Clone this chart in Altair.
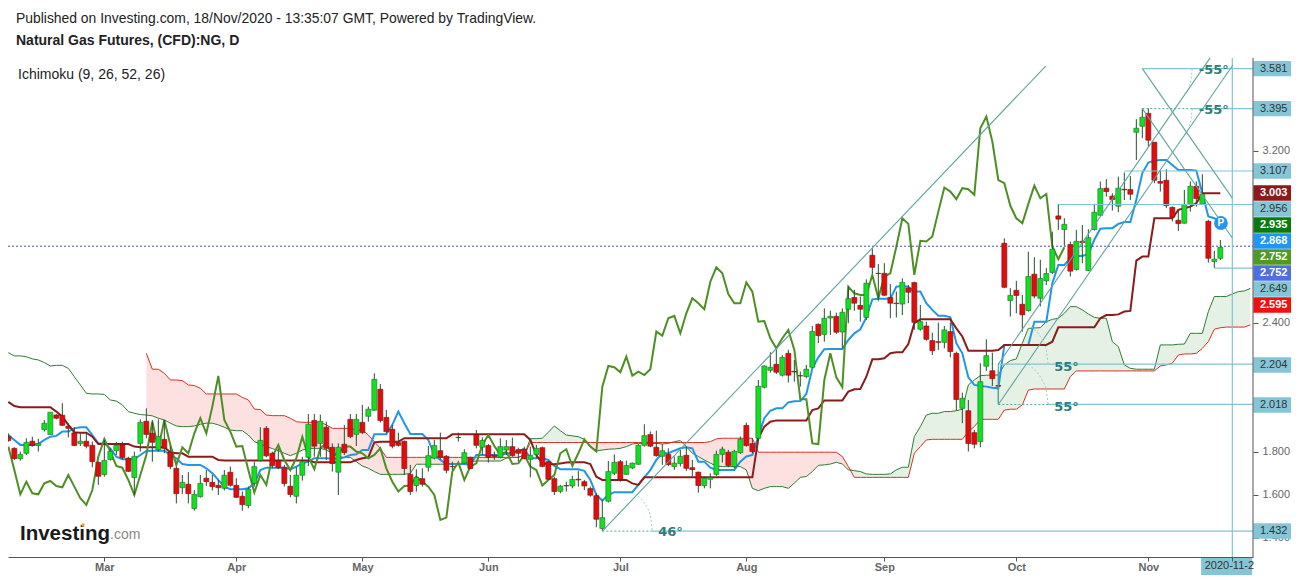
import json
import altair as alt
import pandas as pd

opens = [1.872,1.817,1.769,1.794,1.850,1.830,1.904,1.881,1.972,1.971,
1.920,1.889,1.839,1.850,1.831,1.752,1.695,1.765,1.806,1.834,
1.771,1.681,1.840,1.943,1.887,1.811,1.859,1.799,1.724,1.634,
1.650,1.537,1.592,1.678,1.659,1.645,1.631,1.706,1.645,1.594,
1.551,1.654,1.761,1.910,1.794,1.758,1.729,1.641,1.594,1.692,
1.775,1.947,1.840,1.915,1.822,1.706,1.836,1.952,1.882,1.938,
1.966,1.994,2.092,1.961,1.906,1.844,1.850,1.696,1.644,1.676,
1.729,1.771,1.806,1.780,1.733,1.868,1.748,1.775,1.881,1.822,
1.830,1.786,1.775,1.809,1.825,1.811,1.813,1.766,1.788,1.820,
1.755,1.676,1.617,1.644,1.642,1.673,1.662,1.630,1.597,1.444,
1.571,1.701,1.755,1.696,1.726,1.743,1.831,1.881,1.822,1.780,
1.789,1.732,1.746,1.785,1.727,1.706,1.644,1.673,1.696,1.789,
1.799,1.732,1.797,1.924,1.839,1.864,2.101,2.180,2.208,2.157,
2.259,2.175,2.155,2.151,2.194,2.394,2.347,2.423,2.431,2.358,
2.464,2.519,2.482,2.426,2.715,2.631,2.631,2.519,2.492,2.488,
2.563,2.588,2.371,2.386,2.318,2.313,2.310,2.360,2.259,2.003,
1.992,1.890,1.848,2.199,2.178,2.109,2.771,2.504,2.552,2.487,
2.458,2.627,2.515,2.596,2.635,2.898,2.835,2.765,2.649,2.780,
2.644,2.835,2.901,3.027,2.990,2.943,3.022,3.021,3.287,3.315,
3.375,3.241,3.058,3.064,2.938,2.878,2.864,2.951,3.036,2.952,
2.873,2.686,2.701]
closes = [1.853,1.769,1.789,1.845,1.830,1.839,1.934,1.985,1.957,1.924,
1.910,1.830,1.850,1.827,1.755,1.687,1.761,1.803,1.831,1.774,
1.710,1.780,1.938,1.882,1.845,1.871,1.817,1.732,1.606,1.659,
1.606,1.603,1.654,1.662,1.639,1.634,1.692,1.645,1.589,1.555,
1.627,1.732,1.854,1.782,1.737,1.727,1.653,1.602,1.692,1.755,
1.929,1.827,1.943,1.817,1.746,1.822,1.797,1.871,1.952,1.890,
1.999,2.138,1.946,1.895,1.827,1.831,1.723,1.616,1.682,1.650,
1.783,1.830,1.775,1.715,1.732,1.867,1.797,1.723,1.831,1.854,
1.775,1.778,1.825,1.825,1.783,1.794,1.769,1.785,1.817,1.733,
1.673,1.616,1.641,1.642,1.672,1.670,1.642,1.599,1.487,1.495,
1.709,1.752,1.673,1.737,1.748,1.831,1.876,1.827,1.783,1.806,
1.741,1.748,1.780,1.724,1.718,1.644,1.678,1.681,1.789,1.813,
1.737,1.803,1.859,1.830,1.802,2.106,2.200,2.194,2.171,2.240,
2.157,2.172,2.154,2.185,2.361,2.341,2.422,2.431,2.357,2.450,
2.513,2.492,2.464,2.585,2.659,2.630,2.529,2.492,2.490,2.589,
2.543,2.403,2.406,2.324,2.271,2.310,2.368,2.267,2.044,2.050,
1.839,1.836,2.127,2.248,2.141,2.106,2.566,2.528,2.528,2.438,
2.616,2.525,2.607,2.630,2.743,2.883,2.859,2.641,2.780,2.774,
2.797,2.915,3.025,3.011,2.974,3.027,3.019,2.999,3.306,3.357,
3.250,3.064,3.050,2.946,2.892,2.862,2.952,3.036,2.979,2.999,
2.701,2.697,2.752]
highs = [1.887,1.822,1.802,1.864,1.871,1.861,1.949,1.985,1.977,2.027,
1.934,1.915,1.887,1.887,1.848,1.755,1.856,1.817,1.847,1.848,
1.778,1.802,1.952,2.003,1.949,1.952,1.949,1.825,1.732,1.693,
1.706,1.623,1.693,1.716,1.693,1.670,1.716,1.732,1.678,1.616,
1.639,1.755,1.915,1.921,1.802,1.817,1.740,1.693,1.729,1.778,
1.977,1.977,1.974,1.941,1.840,1.840,1.926,1.977,1.977,2.019,
2.011,2.166,2.116,1.996,1.926,1.890,1.853,1.740,1.720,1.724,
1.828,1.856,1.890,1.786,1.755,1.890,1.813,1.778,1.902,1.868,
1.837,1.802,1.864,1.856,1.867,1.820,1.825,1.825,1.833,1.825,
1.760,1.685,1.647,1.662,1.689,1.713,1.670,1.639,1.608,1.577,
1.758,1.789,1.763,1.760,1.751,1.837,1.929,1.895,1.899,1.837,
1.817,1.779,1.810,1.825,1.763,1.709,1.686,1.701,1.806,1.825,
1.810,1.810,1.872,1.937,1.864,2.135,2.203,2.264,2.275,2.251,
2.275,2.228,2.174,2.205,2.386,2.398,2.468,2.457,2.448,2.468,
2.569,2.554,2.523,2.603,2.747,2.674,2.678,2.581,2.546,2.608,
2.577,2.592,2.484,2.406,2.355,2.402,2.386,2.402,2.267,2.076,
2.042,1.903,2.213,2.324,2.262,2.182,2.794,2.562,2.596,2.531,
2.732,2.706,2.694,2.655,2.825,2.954,2.887,2.779,2.833,2.856,
2.836,2.954,3.058,3.069,3.003,3.081,3.100,3.084,3.348,3.399,
3.399,3.241,3.109,3.115,2.942,2.926,3.019,3.058,3.058,3.092,
2.880,2.735,2.786]
lows = [1.848,1.763,1.760,1.786,1.825,1.802,1.895,1.879,1.952,1.921,
1.868,1.828,1.828,1.817,1.729,1.647,1.685,1.760,1.786,1.766,
1.707,1.600,1.802,1.864,1.755,1.802,1.794,1.720,1.561,1.605,
1.561,1.527,1.588,1.642,1.621,1.600,1.621,1.639,1.585,1.527,
1.538,1.639,1.755,1.775,1.724,1.720,1.639,1.589,1.561,1.667,
1.735,1.778,1.778,1.763,1.709,1.600,1.786,1.864,1.828,1.884,
1.941,1.992,1.937,1.887,1.817,1.825,1.693,1.600,1.616,1.639,
1.709,1.766,1.766,1.701,1.716,1.848,1.744,1.720,1.817,1.786,
1.751,1.763,1.771,1.786,1.778,1.755,1.766,1.682,1.771,1.729,
1.670,1.600,1.608,1.616,1.631,1.639,1.623,1.592,1.450,1.432,
1.565,1.693,1.662,1.693,1.720,1.740,1.825,1.822,1.778,1.740,
1.735,1.717,1.732,1.712,1.686,1.611,1.631,1.631,1.689,1.751,
1.729,1.724,1.791,1.825,1.794,1.859,2.096,2.169,2.163,2.151,
2.123,2.127,2.104,2.143,2.189,2.306,2.313,2.344,2.349,2.282,
2.399,2.457,2.406,2.414,2.631,2.507,2.526,2.422,2.426,2.437,
2.492,2.368,2.364,2.318,2.251,2.275,2.282,2.240,1.992,1.934,
1.802,1.817,1.822,2.177,2.107,2.023,2.562,2.430,2.445,2.360,
2.453,2.515,2.477,2.577,2.628,2.833,2.759,2.616,2.644,2.678,
2.644,2.830,2.898,2.988,2.923,2.915,2.972,2.972,3.158,3.259,
3.220,3.050,3.011,2.934,2.872,2.828,2.862,2.918,2.941,2.949,
2.681,2.656,2.693]

tenkan = [1.879,1.856,1.833,1.833,1.833,1.837,1.856,1.871,1.875,1.895,
1.895,1.910,1.915,1.915,1.879,1.840,1.840,1.817,1.778,1.766,
1.766,1.766,1.786,1.805,1.806,1.806,1.806,1.786,1.771,1.744,
1.740,1.740,1.740,1.724,1.701,1.670,1.639,1.627,1.627,1.627,
1.631,1.654,1.716,1.727,1.727,1.727,1.727,1.720,1.732,1.747,
1.755,1.771,1.771,1.771,1.768,1.768,1.775,1.786,1.789,1.809,
1.809,1.882,1.882,1.882,1.926,1.988,1.934,1.884,1.884,1.884,
1.856,1.786,1.763,1.744,1.744,1.744,1.744,1.740,1.786,1.786,
1.786,1.786,1.783,1.794,1.794,1.806,1.813,1.771,1.771,1.771,
1.763,1.735,1.720,1.720,1.720,1.720,1.712,1.670,1.600,1.574,
1.600,1.613,1.613,1.613,1.613,1.647,1.682,1.716,1.763,1.794,
1.794,1.806,1.817,1.822,1.817,1.755,1.755,1.727,1.716,1.716,
1.716,1.716,1.755,1.779,1.786,1.872,1.957,1.992,2.003,2.003,
2.031,2.036,2.037,2.070,2.189,2.240,2.278,2.279,2.279,2.279,
2.321,2.352,2.371,2.426,2.510,2.513,2.513,2.513,2.569,2.572,
2.569,2.546,2.546,2.492,2.461,2.434,2.434,2.426,2.306,2.259,
2.147,2.112,2.107,2.104,2.099,2.096,2.298,2.298,2.298,2.298,
2.298,2.406,2.406,2.406,2.585,2.670,2.670,2.701,2.712,2.712,
2.721,2.787,2.838,2.841,2.841,2.861,2.870,2.870,2.973,3.097,
3.146,3.155,3.158,3.158,3.135,3.112,3.112,3.112,3.109,3.004,
2.895,2.887,2.868]

kijun = [2.033,2.014,2.008,2.008,2.008,2.008,2.008,2.008,1.988,1.964,
1.926,1.892,1.890,1.890,1.871,1.837,1.837,1.837,1.837,1.837,
1.837,1.825,1.822,1.822,1.822,1.822,1.822,1.799,1.794,1.794,
1.778,1.778,1.778,1.778,1.778,1.763,1.761,1.761,1.761,1.761,
1.761,1.761,1.761,1.761,1.761,1.761,1.761,1.761,1.761,1.761,
1.761,1.752,1.752,1.752,1.752,1.752,1.752,1.752,1.763,1.771,
1.775,1.845,1.848,1.848,1.848,1.848,1.864,1.864,1.864,1.864,
1.864,1.864,1.864,1.864,1.882,1.882,1.882,1.882,1.882,1.882,
1.882,1.882,1.882,1.882,1.882,1.882,1.882,1.856,1.786,1.747,
1.744,1.743,1.747,1.751,1.752,1.752,1.752,1.744,1.685,1.670,
1.670,1.670,1.670,1.670,1.654,1.647,1.682,1.682,1.682,1.682,
1.682,1.682,1.682,1.682,1.682,1.682,1.682,1.682,1.682,1.682,
1.682,1.682,1.682,1.682,1.682,1.864,1.918,1.941,1.947,1.947,
1.947,1.947,1.947,1.947,1.995,2.003,2.040,2.040,2.040,2.040,
2.081,2.092,2.093,2.150,2.231,2.231,2.236,2.259,2.264,2.264,
2.302,2.399,2.417,2.417,2.417,2.417,2.417,2.417,2.375,2.337,
2.271,2.271,2.271,2.271,2.271,2.274,2.298,2.298,2.298,2.298,
2.298,2.298,2.298,2.298,2.313,2.380,2.380,2.380,2.380,2.380,
2.380,2.380,2.422,2.437,2.437,2.440,2.453,2.456,2.690,2.709,
2.709,2.887,2.887,2.887,2.887,2.926,2.934,2.941,2.957,3.003,
3.003,3.003,3.003]

lagging = [1.825,1.716,1.603,1.662,1.608,1.603,1.654,1.665,1.642,1.636,
1.693,1.639,1.585,1.554,1.623,1.778,1.861,1.802,1.735,1.727,
1.670,1.600,1.693,1.786,1.941,1.817,1.949,1.833,1.740,1.822,
1.794,1.887,1.957,1.887,2.011,2.154,1.949,1.895,1.825,1.828,
1.716,1.611,1.693,1.647,1.778,1.833,1.763,1.716,1.771,1.871,
1.778,1.720,1.817,1.840,1.786,1.794,1.825,1.825,1.802,1.794,
1.771,1.786,1.817,1.724,1.662,1.616,1.642,1.644,1.685,1.662,
1.639,1.600,1.484,1.495,1.709,1.751,1.670,1.732,1.747,1.833,
1.879,1.828,1.786,1.802,1.744,1.747,1.786,1.732,1.716,1.644,
1.670,1.693,1.794,1.813,1.735,1.794,1.859,1.825,1.802,2.104,
2.200,2.194,2.171,2.244,2.155,2.174,2.158,2.185,2.360,2.341,
2.422,2.433,2.352,2.445,2.515,2.492,2.464,2.592,2.659,2.631,
2.535,2.492,2.492,2.589,2.546,2.406,2.409,2.329,2.282,2.329,
2.368,2.275,2.045,2.045,1.840,1.837,2.135,2.259,2.147,2.101,
2.569,2.538,2.530,2.530,2.623,2.515,2.616,2.631,2.755,2.887,
2.861,2.624,2.782,2.779,2.802,2.918,3.030,3.011,2.976,3.027,
3.022,2.996,3.306,3.360,3.244,3.065,3.050,2.945,2.887,2.864,
2.954,3.039,2.980,3.000,2.756,2.697,2.752]

senkou_a = [2.262,2.247,2.247,2.243,2.233,2.228,2.216,2.200,2.203,2.203,
2.189,2.150,2.112,2.073,2.070,2.070,2.068,2.042,2.037,2.019,
1.988,1.980,1.974,1.972,1.968,1.957,1.949,1.934,1.921,1.918,
1.918,1.921,1.929,1.934,1.934,1.926,1.915,1.902,1.899,1.899,
1.879,1.848,1.837,1.825,1.816,1.806,1.794,1.783,1.794,1.809,
1.817,1.817,1.817,1.809,1.794,1.778,1.775,1.775,1.755,1.735,
1.724,1.709,1.696,1.696,1.696,1.696,1.696,1.701,1.743,1.743,
1.743,1.743,1.743,1.743,1.743,1.743,1.743,1.755,1.758,1.758,
1.758,1.758,1.758,1.771,1.775,1.775,1.786,1.862,1.862,1.864,
1.892,1.921,1.899,1.879,1.875,1.871,1.859,1.828,1.805,1.809,
1.813,1.814,1.817,1.825,1.837,1.840,1.840,1.840,1.840,1.837,
1.840,1.848,1.853,1.825,1.794,1.779,1.763,1.748,1.735,1.732,
1.732,1.732,1.732,1.717,1.631,1.620,1.631,1.639,1.639,1.639,
1.631,1.655,1.682,1.686,1.709,1.738,1.740,1.744,1.752,1.744,
1.717,1.713,1.709,1.698,1.696,1.696,1.696,1.698,1.717,1.729,
1.729,1.872,1.918,1.972,1.980,1.980,1.988,1.988,1.992,1.999,
2.112,2.135,2.155,2.157,2.158,2.158,2.205,2.225,2.233,2.306,
2.375,2.377,2.378,2.406,2.417,2.422,2.445,2.476,2.476,2.461,
2.442,2.426,2.422,2.422,2.313,2.290,2.205,2.189,2.185,2.185,
2.185,2.185,2.298,2.298,2.298,2.301,2.302,2.352,2.352,2.352,
2.453,2.523,2.523,2.523,2.535,2.546,2.549,2.561]

# Senkou B starts at bar 23
senkou_b = [2.259,2.185,2.185,2.166,2.135,2.135,2.132,
2.112,2.109,2.096,2.070,2.070,2.070,2.070,2.070,2.070,2.054,
2.042,2.000,1.997,1.972,1.969,1.969,1.969,1.957,1.941,1.938,
1.938,1.938,1.938,1.926,1.910,1.910,1.910,1.910,1.902,1.902,
1.879,1.848,1.817,1.775,1.775,1.775,1.775,1.775,1.775,1.775,
1.775,1.775,1.775,1.775,1.775,1.775,1.775,1.775,1.775,1.775,
1.775,1.775,1.775,1.775,1.775,1.775,1.786,1.844,1.844,1.844,
1.844,1.844,1.844,1.844,1.844,1.844,1.844,1.844,1.844,1.844,
1.844,1.844,1.844,1.844,1.844,1.844,1.844,1.844,1.844,1.844,
1.844,1.844,1.844,1.844,1.844,1.844,1.844,1.848,1.861,1.864,
1.864,1.864,1.864,1.864,1.864,1.799,1.799,1.799,1.799,1.799,
1.799,1.799,1.799,1.799,1.799,1.799,1.799,1.799,1.799,1.779,
1.732,1.682,1.682,1.682,1.682,1.682,1.682,1.682,1.682,1.682,
1.682,1.794,1.825,1.856,1.859,1.859,1.859,1.859,1.859,1.859,
1.895,1.918,1.952,1.952,1.952,1.952,1.995,1.999,1.999,2.019,
2.088,2.093,2.093,2.093,2.093,2.093,2.093,2.151,2.177,2.177,
2.177,2.177,2.177,2.177,2.177,2.177,2.177,2.177,2.177,2.177,
2.177,2.177,2.200,2.205,2.213,2.251,2.256,2.256,2.259,2.282,
2.313,2.371,2.378,2.381,2.381,2.381,2.381,2.391]

month_bars = [16, 38, 59, 80, 102, 123, 146, 168, 190, 204]
month_names = ["Mar", "Apr", "May", "Jun", "Jul", "Aug", "Sep", "Oct", "Nov", ""]
price_ticks = [1.4, 1.6, 1.8, 2.4, 3.2]

tag_text = ["3.581","3.395","3.107","3.003","2.956","2.935","2.868","2.752","2.752","2.649","2.595","2.204","2.018","1.432"]
tag_level = [3.583,3.397,3.107,3.005,2.930,2.856,2.781,2.707,2.633,2.558,2.484,2.205,2.019,1.433]
tag_fill = ["#84c6d8","#84c6d8","#84c6d8","#8b1a1a","#84c6d8","#0a7a10","#1e96f5","#4f9a23","#4f6fe0","#84c6d8","#f01010","#84c6d8","#84c6d8","#84c6d8"]
tag_ink = ["#333333","#333333","#333333","#ffffff","#333333","#ffffff","#ffffff","#ffffff","#ffffff","#333333","#ffffff","#333333","#333333","#333333"]

X0, X1 = -0.055, 207.445
Y0, Y1 = 1.3116, 3.865
xs = alt.Scale(domain=[X0, X1], nice=False, zero=False, padding=0)
ys = alt.Scale(domain=[Y0, Y1], nice=False, zero=False, padding=0)
x_axis = alt.Axis(
    values=month_bars, grid=False, domainColor="#555555", tickColor="#555555", tickSize=4,
    labelColor="#666666", labelFont="Liberation Sans", labelFontSize=11, labelFontWeight="bold",
    labelPadding=0, labelOverlap=False, labelFlush=False, zindex=1,
    labelExpr="%s[indexof(%s, datum.value)]" % (json.dumps(month_names), json.dumps(month_bars)))
y_axis = alt.Axis(
    orient="right", values=price_ticks, format=".3f", grid=False, domain=False, tickColor="#555555",
    tickSize=5, labelColor="#666666", labelFont="Liberation Sans", labelFontSize=11, labelPadding=4,
    labelOverlap=False)
XP = lambda f: alt.X(f, scale=xs, axis=x_axis, title=None)
YP = lambda f: alt.Y(f, scale=ys, axis=y_axis, title=None)

ohlc = pd.DataFrame({"k": range(len(opens)), "o": opens, "h": highs, "l": lows, "c": closes})
ohlc["top"] = ohlc[["o", "c"]].max(axis=1)
ohlc["bot"] = ohlc[["o", "c"]].min(axis=1)
ohlc["dir"] = ["up" if c >= o else "down" for o, c in zip(opens, closes)]

cloud = pd.DataFrame({"k": range(23, 23 + len(senkou_b)), "a": senkou_a[23:], "b": senkou_b})
cloud["mx"] = cloud[["a", "b"]].max(axis=1)

def series_line(values, color, width, start=0):
    df = pd.DataFrame({"k": range(start, start + len(values)), "v": values})
    return alt.Chart(df).mark_line(color=color, strokeWidth=width, clip=True).encode(x=XP("k:Q"), y=YP("v:Q"))

TEAL = "#5da59e"
LIGHT = "#7fc5d3"
# trend lines and level lines of the drawing tools: bar, price -> bar, price
teal_segments = [
    (99, 1.432, 172.9, 3.595), (165, 2.209, 200.3, 3.633), (165, 2.021, 204.1, 3.600),
    (189, 3.583, 204, 2.981), (189, 3.397, 204, 2.795), (165, 2.209, 165, 2.021),
]
light_segments = [
    (189, 3.583, X1, 3.583), (197.3, 3.397, X1, 3.397), (186, 3.107, X1, 3.107),
    (175, 2.951, X1, 2.951), (201, 2.655, X1, 2.655), (165, 2.209, X1, 2.209),
    (173.3, 2.021, X1, 2.021), (107.3, 1.432, X1, 1.432), (204, Y0, 204, 3.633),
]
dashed_segments = [(99, 1.432, 107.3, 1.432), (165, 2.021, 173.3, 2.021), (189, 3.397, 197.3, 3.397)]
arcs = {
    "a46": ([107.3, 107.1, 106.6, 105.9, 104.9], [1.437, 1.488, 1.535, 1.567, 1.595]),
    "a55l": ([173.3, 173.0, 172.2, 170.8, 169.7], [2.023, 2.084, 2.140, 2.188, 2.214]),
    "a55u": ([173.3, 173.0, 172.2, 170.8, 169.7], [2.210, 2.271, 2.327, 2.375, 2.401]),
    "a55h1": ([197.3, 197.1, 196.7], [3.583, 3.530, 3.500]),
    "a55h2": ([197.3, 197.1, 196.7], [3.397, 3.344, 3.314]),
}
angle_k = [108.3, 174.3, 174.3, 198.4, 198.4]
angle_p = [1.428, 2.197, 2.011, 3.577, 3.391]
angle_t = ["46°", "55°", "55°", "-55°", "-55°"]

def segments(rows, color, width=1.0, dash=None):
    df = pd.DataFrame(rows, columns=["x", "y", "x2", "y2"])
    kw = {"strokeDash": dash} if dash else {}
    return alt.Chart(df).mark_rule(color=color, strokeWidth=width, **kw).encode(
        x=XP("x:Q"), y=YP("y:Q"), x2="x2:Q", y2="y2:Q")

def page_text(text, x, y, size, weight="normal", color="#222222", font="Liberation Sans"):
    return alt.Chart(pd.DataFrame({"t": [text]})).mark_text(
        align="left", baseline="middle", fontSize=size, fontWeight=weight, color=color, font=font
    ).encode(text="t:N", x=alt.value(x - 8), y=alt.value(y - 8))

layers = []
# cloud
layers.append(alt.Chart(cloud).mark_area(color="#e5f1e5", clip=True).encode(x=XP("k:Q"), y=YP("b:Q"), y2="mx:Q"))
layers.append(alt.Chart(cloud).mark_area(color="#fde0e0", clip=True).encode(x=XP("k:Q"), y=YP("a:Q"), y2="mx:Q"))
layers.append(series_line(senkou_a, "#2e7d32", 1))
layers.append(series_line(senkou_b, "#d93025", 1, start=23))
layers.append(series_line(tenkan, "#2196e8", 2))
layers.append(series_line(kijun, "#8c1c1c", 2))
layers.append(series_line(lagging, "#4e8f25", 2))
# last-price line
layers.append(segments([(X0, 2.757, X1, 2.757)], "#3f51a5", 1, [2, 2]))
# candles
layers.append(alt.Chart(ohlc).mark_rule(color="#27502f", strokeWidth=1).encode(x=XP("k:Q"), y=YP("l:Q"), y2="h:Q"))
layers.append(alt.Chart(ohlc).mark_bar(size=5, strokeWidth=0.6).encode(
    x=XP("k:Q"), y=YP("bot:Q"), y2="top:Q",
    color=alt.Color("dir:N", legend=None, scale=alt.Scale(domain=["up", "down"], range=["#10e01f", "#e00d0d"])),
    stroke=alt.Stroke("dir:N", legend=None, scale=alt.Scale(domain=["up", "down"], range=["#1c6b28", "#7a1010"])),
))
# drawing tools
layers.append(segments(light_segments, LIGHT, 1.2))
layers.append(segments(teal_segments, TEAL, 1.1))
layers.append(segments(dashed_segments, TEAL, 1, [2, 2]))
for name, (ak, ap) in arcs.items():
    layers.append(alt.Chart(pd.DataFrame({"k": ak, "v": ap, "o": range(len(ak))})).mark_line(
        color="#9ccdc8", strokeWidth=1, strokeDash=[2, 2], interpolate="monotone").encode(
        x=XP("k:Q"), y=YP("v:Q"), order="o:Q"))
layers.append(alt.Chart(pd.DataFrame({"k": angle_k, "v": angle_p, "t": angle_t})).mark_text(
    align="left", baseline="middle", fontSize=13, fontWeight="bold", color="#2f7d78", font="DejaVu Sans"
).encode(x=XP("k:Q"), y=YP("v:Q"), text="t:N"))
# P marker
pdf = pd.DataFrame({"k": [202.1], "v": [2.865], "t": ["P"]})
layers.append(alt.Chart(pdf).mark_point(filled=True, size=190, opacity=1, color="#2196f3").encode(x=XP("k:Q"), y=YP("v:Q")))
layers.append(alt.Chart(pdf).mark_text(color="white", fontWeight="bold", fontSize=10, font="Liberation Sans").encode(
    x=XP("k:Q"), y=YP("v:Q"), text="t:N"))
# right price tags
tags = pd.DataFrame({"t": tag_text, "lv": tag_level, "fill": tag_fill, "ink": tag_ink})
tags["a"] = tags["lv"] + 0.036
tags["b"] = tags["lv"] - 0.036
tags["k0"] = 207.5
tags["k1"] = 213.8
tags["kt"] = 208.6
tags["w"] = ["bold" if i == "#ffffff" else "normal" for i in tag_ink]
layers.append(alt.Chart(tags).mark_rect().encode(
    x=XP("k0:Q"), x2="k1:Q", y=YP("a:Q"), y2="b:Q", color=alt.Color("fill:N", scale=None)))
for weight in ["normal", "bold"]:
    layers.append(alt.Chart(tags[tags.w == weight]).mark_text(
        align="left", baseline="middle", fontSize=11, fontWeight=weight, font="Liberation Sans"
    ).encode(x=XP("kt:Q"), y=YP("lv:Q"), text="t:N", color=alt.Color("ink:N", scale=None)))
# axis frame on the right, date tag
layers.append(segments([(X1, Y0, X1, 3.633)], "#555555", 1))
date_tag = pd.DataFrame({"k0": [198.8], "k1": [207.3], "a": [Y0], "b": [1.228], "kt": [199.4], "v": [1.27], "t": ["2020-11-2"]})
layers.append(alt.Chart(date_tag).mark_rect(color="#84c6d8").encode(x=XP("k0:Q"), x2="k1:Q", y=YP("a:Q"), y2="b:Q"))
layers.append(alt.Chart(date_tag).mark_text(align="left", baseline="middle", fontSize=11, color="#333333", font="Liberation Sans").encode(
    x=XP("kt:Q"), y=YP("v:Q"), text="t:N"))
# header and logo
layers.append(page_text("Published on Investing.com, 18/Nov/2020 - 13:35:07 GMT, Powered by TradingView.", 16, 19, 13.9))
layers.append(page_text("Natural Gas Futures, (CFD):NG, D", 16, 41, 14, "bold"))
layers.append(page_text("Ichimoku (9, 26, 52, 26)", 18, 75, 14))
layers.append(page_text("Investing", 20, 534, 20.5, "bold", "#1a1a1a"))
layers.append(page_text(".com", 110, 535, 14, "normal", "#8a8a8a"))
layers.append(alt.Chart(pd.DataFrame({"a": [1]})).mark_point(filled=True, size=12, opacity=1, color="#f7a21b").encode(
    x=alt.value(75), y=alt.value(517)))

chart = alt.layer(*layers).resolve_scale(color="independent").properties(
    width=1245, height=549, background="white",
    autosize=alt.AutoSizeParams(type="none"),
    padding={"left": 0, "top": 0, "right": 38, "bottom": 18},
).configure_view(stroke=None)

chart.save("out.html", embed_options={"renderer": "svg", "actions": False})
